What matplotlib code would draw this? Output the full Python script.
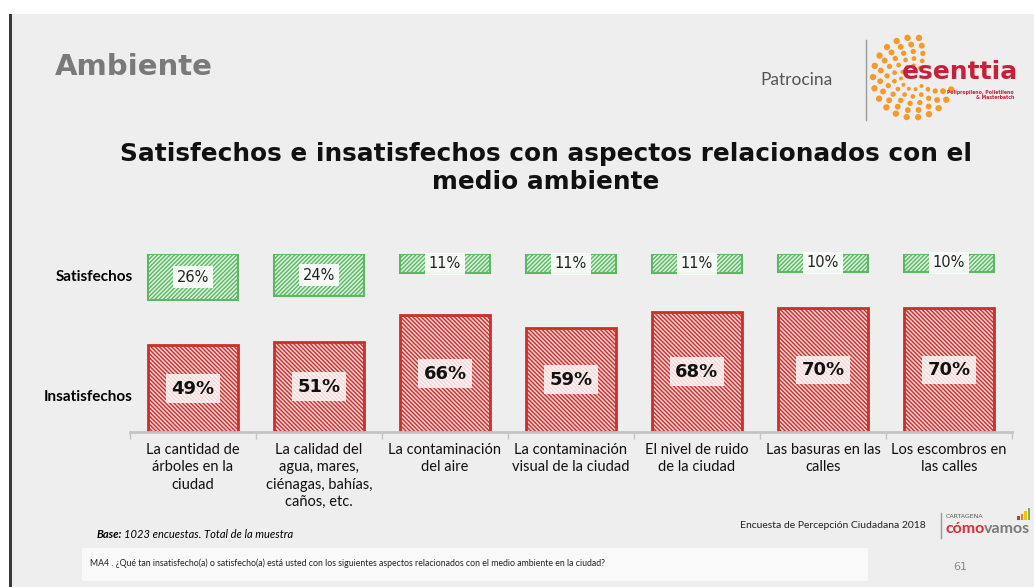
#!/usr/bin/env python3
"""Satisfechos e insatisfechos con aspectos del medio ambiente (slide 61)."""
import matplotlib
matplotlib.use("Agg")
import matplotlib.pyplot as plt
from matplotlib.patches import Rectangle
import numpy as np

W, H = 1034, 587

categories = [
    "La cantidad de\nárboles en la\nciudad",
    "La calidad del\nagua, mares,\nciénagas, bahías,\ncaños, etc.",
    "La contaminación\ndel aire",
    "La contaminación\nvisual de la ciudad",
    "El nivel de ruido\nde la ciudad",
    "Las basuras en las\ncalles",
    "Los escombros en\nlas calles",
]
satisfechos = [26, 24, 11, 11, 11, 10, 10]
insatisfechos = [49, 51, 66, 59, 68, 70, 70]

RED = "#c9302c"
RED_FACE = "#f0d2d2"
GREEN = "#5cb865"
GREEN_FACE = "#dcf0dd"
BG = "#eeeeee"

plt.rcParams["hatch.linewidth"] = 1.0


def fx(x):
    return x / W


def fy(y):
    return 1 - y / H


fig = plt.figure(figsize=(W / 100, H / 100), dpi=100)
fig.patch.set_facecolor(BG)

# slide frame: white strip on top, dark rule on the left
fig.patches.append(Rectangle((0, fy(14)), 1, 14 / H, transform=fig.transFigure,
                             facecolor="white", edgecolor="none", zorder=0))
fig.patches.append(Rectangle((0, 0), fx(9), fy(14), transform=fig.transFigure,
                             facecolor="white", edgecolor="none", zorder=0))
fig.patches.append(Rectangle((fx(9), 0), fx(3), fy(14), transform=fig.transFigure,
                             facecolor="#3a3a3a", edgecolor="none", zorder=1))

# header
fig.text(fx(55), fy(67), "Ambiente", fontsize=21, fontweight="bold",
         color="#7a7a7a", va="center", ha="left")
fig.text(fx(760), fy(80), "Patrocina", fontsize=12.5, color="#555555",
         va="center", ha="left", family="Lato")
fig.add_artist(plt.Line2D([fx(866), fx(866)], [fy(40), fy(120)],
                          color="#9a9a9a", lw=1))

# sponsor logo: orange dot sunburst + wordmark
logo = fig.add_axes([fx(868), fy(125), fx(90), 95 / H])
logo.set_xlim(-45, 45)
logo.set_ylim(-47.5, 47.5)
logo.axis("off")
for k, r in enumerate(range(12, 46, 7)):
    n = 9 + k * 2
    ang = np.linspace(np.pi * 0.3, np.pi * 1.75, n) + k * 0.12
    logo.scatter(r * np.cos(ang), r * np.sin(ang), s=3 + r * 0.45,
                 color="#f39a2b", edgecolor="none")
fig.text(fx(960), fy(72), "esenttia", fontsize=18, fontweight="bold",
         color="#c8203a", ha="center", va="center", zorder=5)
fig.text(fx(1014), fy(95), "Polipropileno, Polietileno\n& Masterbatch",
         fontsize=3.3, fontweight="bold", color="#c8203a", ha="right",
         va="center", linespacing=1.1)

# chart title
fig.text(fx(546), fy(168),
         "Satisfechos e insatisfechos con aspectos relacionados con el\nmedio ambiente",
         fontsize=17.8, fontweight="bold", color="#111111", ha="center",
         va="center", linespacing=1.22)

# chart
ax = fig.add_axes([fx(130), fy(432), fx(1012) - fx(130), (432 - 254) / H])
ax.set_facecolor("none")
top = (432 - 254) / 1.77
ax.set_ylim(0, top)
ax.set_xlim(-0.5, len(categories) - 0.5)
x = np.arange(len(categories))
bw = 90 / 126

ax.bar(x, insatisfechos, width=bw, facecolor=RED_FACE, edgecolor=RED,
       hatch="\\" * 8, linewidth=2)
ax.bar(x, satisfechos, width=bw, bottom=[top - v for v in satisfechos],
       facecolor=GREEN_FACE, edgecolor=GREEN, hatch="/" * 8, linewidth=1.5)

for xi, v in zip(x, insatisfechos):
    ax.text(xi, v / 2, f"{v}%", ha="center", va="center", fontsize=13,
            fontweight="bold", color="#111111",
            bbox=dict(facecolor="white", alpha=0.8, edgecolor="none",
                      boxstyle="square,pad=0.3"))
for xi, v in zip(x, satisfechos):
    ax.text(xi, top - v / 2, f"{v}%", ha="center", va="center", fontsize=10.5,
            color="#222222",
            bbox=dict(facecolor="white", alpha=0.9, edgecolor="none",
                      boxstyle="square,pad=0.25"))

for s in ["top", "left", "right"]:
    ax.spines[s].set_visible(False)
ax.spines["bottom"].set_color("#c4c4c4")
ax.spines["bottom"].set_linewidth(2)
ax.set_yticks([])
ax.set_xticks(x)
ax.set_xticklabels(categories, fontsize=10.5, family="Lato", color="#111111",
                   linespacing=1.3)
ax.tick_params(axis="x", which="major", length=0, pad=8)
ax.set_xticks(np.arange(-0.5, len(categories)), minor=True)
ax.tick_params(axis="x", which="minor", length=5, width=1, color="#c4c4c4")

fig.text(fx(133), fy(277), "Satisfechos", fontsize=11, fontweight="bold",
         ha="right", va="center", family="Lato")
fig.text(fx(133), fy(397), "Insatisfechos", fontsize=11, fontweight="bold",
         ha="right", va="center", family="Lato")

# footer
fig.text(fx(97), fy(534), "Base:", fontsize=8, fontweight="bold",
         style="italic", ha="left", va="center", family="Lato")
fig.text(fx(124), fy(534), "1023 encuestas. Total de la muestra", fontsize=8,
         style="italic", ha="left", va="center", family="Lato")
fig.text(fx(740), fy(526), "Encuesta de Percepción Ciudadana 2018",
         fontsize=7.5, ha="left", va="center", family="Lato", color="#222222")
fig.add_artist(plt.Line2D([fx(941), fx(941)], [fy(513), fy(538)],
                          color="#9a9a9a", lw=1))
fig.text(fx(946), fy(517), "CARTAGENA", fontsize=4.5, color="#555555",
         ha="left", va="center")
fig.text(fx(945), fy(529), "cómo", fontsize=11.5, fontweight="bold",
         color="#d0303a", ha="left", va="center", family="Lato")
fig.text(fx(984), fy(529), "vamos", fontsize=11.5, fontweight="bold",
         color="#7a7a7a", ha="left", va="center", family="Lato")
for i, (c, h) in enumerate(zip(["#c0392b", "#e67e22", "#f1c40f", "#7cb342"],
                               [4, 6, 9, 12])):
    fig.patches.append(Rectangle((fx(1017 + i * 3.5), fy(520)), fx(2.5), h / H,
                                 transform=fig.transFigure, facecolor=c,
                                 edgecolor="none"))

fig.patches.append(Rectangle((fx(82), fy(581)), fx(786), 33 / H,
                             transform=fig.transFigure, facecolor="white",
                             alpha=0.7, edgecolor="none"))
fig.text(fx(90), fy(563),
         "MA4 . ¿Qué tan insatisfecho(a) o satisfecho(a) está usted con los "
         "siguientes aspectos relacionados con el medio ambiente en la ciudad?",
         fontsize=6.3, ha="left", va="center", family="Lato", color="#222222")
fig.text(fx(953), fy(567), "61", fontsize=8, color="#888888", ha="left",
         va="center")

fig.savefig("out.png", dpi=100, facecolor=fig.get_facecolor())
